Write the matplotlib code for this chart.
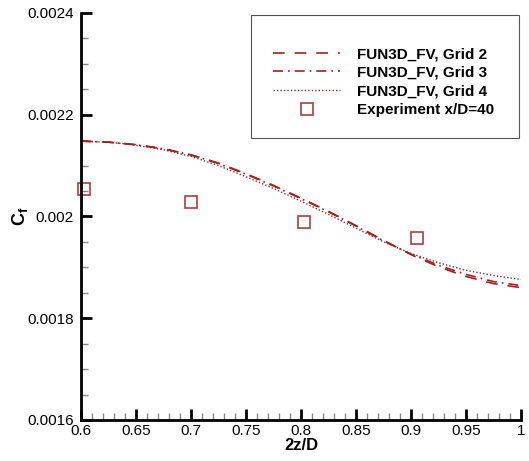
import matplotlib
matplotlib.use('Agg')
import matplotlib.pyplot as plt
from matplotlib.ticker import MultipleLocator, FuncFormatter
from matplotlib.patches import Rectangle

plt.rcParams['font.family'] = ['Liberation Sans', 'DejaVu Sans']
plt.rcParams['mathtext.fontset'] = 'custom'
plt.rcParams['mathtext.rm'] = 'Liberation Sans'
plt.rcParams['mathtext.bf'] = 'Liberation Sans:bold'

# spanwise station 2z/D
z = [0.6, 0.625, 0.65, 0.675, 0.7, 0.725, 0.75, 0.775, 0.8,
     0.825, 0.85, 0.875, 0.9, 0.925, 0.95, 0.975, 1.0]

cf_grid2 = [0.002148, 0.002146, 0.002141, 0.002133, 0.002121, 0.002105, 0.002084,
            0.002061, 0.002036, 0.002010, 0.001982, 0.001953, 0.001925, 0.001901,
            0.001882, 0.001868, 0.001860]
cf_grid3 = [0.002148, 0.002146, 0.002141, 0.002133, 0.002121, 0.002104, 0.002083,
            0.002060, 0.002035, 0.002009, 0.001981, 0.001952, 0.001926, 0.001904,
            0.001886, 0.001872, 0.001864]
cf_grid4 = [0.002148, 0.002146, 0.002140, 0.002131, 0.002118, 0.002100, 0.002078,
            0.002055, 0.002030, 0.002004, 0.001977, 0.001950, 0.001927, 0.001909,
            0.001894, 0.001884, 0.001876]

# experiment x/D=40
z_exp = [0.603, 0.7, 0.803, 0.905]
cf_exp = [0.002054, 0.002028, 0.001989, 0.001957]

red = '#a3201f'

fig = plt.figure(figsize=(5.29, 4.61), dpi=100)
ax = fig.add_axes([0.153, 0.089, 0.832, 0.883])

ax.plot(z, cf_grid2, color=red, lw=1.2, dashes=(7, 6), label='FUN3D_FV, Grid 2')
ax.plot(z, cf_grid3, color=red, lw=1.2, dashes=(6, 3, 1, 3), label='FUN3D_FV, Grid 3')
ax.plot(z, cf_grid4, color='#7a3030', lw=1.0, dashes=(1, 1.5), label='FUN3D_FV, Grid 4')
ax.plot(z_exp, cf_exp, ls='none', marker='s', ms=8, mfc='none', mec='#a8403f',
        mew=1.2, clip_on=False, label='Experiment x/D=40')

ax.set_xlim(0.6, 1.0)
ax.set_ylim(0.0016, 0.0024)

ax.xaxis.set_major_locator(MultipleLocator(0.05))
ax.xaxis.set_minor_locator(MultipleLocator(0.01))
ax.yaxis.set_major_locator(MultipleLocator(0.0002))
ax.yaxis.set_minor_locator(MultipleLocator(0.00005))
fmt = FuncFormatter(lambda v, p: '%g' % round(v, 6))
ax.xaxis.set_major_formatter(fmt)
ax.yaxis.set_major_formatter(fmt)

ax.tick_params(which='both', direction='in', top=False, right=False, labelsize=11)
ax.tick_params(which='major', length=8, width=2, color='k')
ax.tick_params(which='minor', length=5, width=1, color='#888888')
ax.tick_params(axis='x', pad=3)
ax.tick_params(axis='y', pad=5)

for s in ['top', 'right']:
    ax.spines[s].set_visible(False)
for s in ['left', 'bottom']:
    ax.spines[s].set_linewidth(2)

ax.set_xlabel('2z/D', fontsize=12, fontweight='bold', labelpad=0)
ax.set_ylabel(r'$\mathbf{C_f}$', fontsize=13, labelpad=-2)

# legend box
fig.patches.append(Rectangle((251 / 529, 1 - 138 / 461), 268 / 529, 123 / 461,
                             transform=fig.transFigure, fill=False,
                             edgecolor='#555555', lw=0.8))
leg = ax.legend(loc='upper left', bbox_to_anchor=(267 / 529, 1 - 41 / 461),
                bbox_transform=fig.transFigure, frameon=False,
                prop={'weight': 'bold', 'size': 11}, handlelength=4.4,
                handletextpad=1.1, labelspacing=0.3, borderaxespad=0)

fig.savefig('out.png', dpi=100)
